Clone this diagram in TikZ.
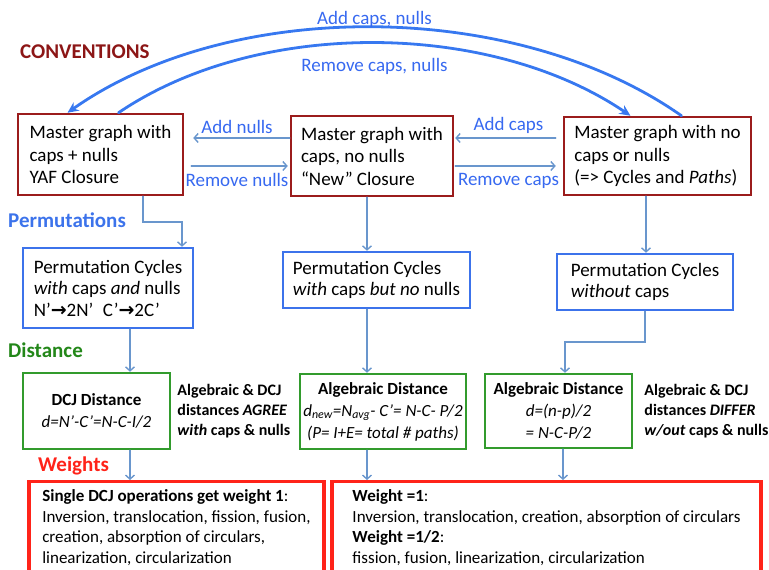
\documentclass[tikz,border=0pt]{standalone}
\usepackage{fontspec}
\setmainfont{Carlito}
\newfontfamily\arrowfont{DejaVu Sans}
\usetikzlibrary{arrows.meta, positioning, calc}

\definecolor{convred}{RGB}{140,22,22}
\definecolor{boxred}{RGB}{155,28,28}
\definecolor{permblue}{RGB}{60,115,235}
\definecolor{distgreen}{RGB}{35,135,25}
\definecolor{boxgreen}{RGB}{50,155,45}
\definecolor{weightred}{RGB}{255,35,25}
\definecolor{linkblue}{RGB}{105,150,205}
\definecolor{arcblue}{RGB}{55,120,240}
\definecolor{labelblue}{RGB}{55,105,240}

\begin{document}
\begin{tikzpicture}[x=1pt, y=1pt, line cap=round,
  box/.style={draw, line width=2.5pt, inner sep=0pt, align=left},
  master/.style={box, draw=boxred, font=\fontsize{19}{22.5}\selectfont},
  cycles/.style={box, draw=permblue, font=\fontsize{19}{21.5}\selectfont},
  dist/.style={box, draw=boxgreen, align=center, font=\fontsize{17}{22}\selectfont},
  weightbox/.style={box, draw=weightred, line width=3.5pt, anchor=north, inner ysep=8pt, font=\fontsize{17}{20.5}\selectfont},
  remark/.style={align=left, inner sep=0pt, font=\bfseries\fontsize{16}{20}\selectfont},
  section/.style={anchor=west, inner sep=0pt, font=\bfseries\fontsize{21}{24}\selectfont},
  link/.style={draw=linkblue, line width=1.4pt, -{Straight Barb[length=4pt,width=9pt]}},
  swing/.style={draw=arcblue, line width=2.8pt, -{Stealth[length=11pt,width=10pt]}},
  tag/.style={text=labelblue, inner sep=1pt, font=\fontsize{19}{22}\selectfont}
]

\useasboundingbox (0,0) rectangle (769,570);

%Coordinates
\coordinate (bendA) at (182,348);
\coordinate (bendC) at (565,228);

% Section titles
\node[section, text=convred] (conventions) at (20,518) {CONVENTIONS};
\node[section, text=permblue] (permutations) at (8,350) {Permutations};
\node[section, text=distgreen] (distance) at (8,220) {Distance};
\node[section, text=weightred] (weights) at (38,104) {Weights};

% Master graphs
\node[master, minimum width=165pt, minimum height=81pt] (yaf) at (100.5,415.5)
	{Master graph with\\caps + nulls\\YAF Closure};
\node[master, minimum width=162pt, minimum height=80pt] (newclosure) at (372,414)
	{Master graph with\\caps, no nulls\\“New” Closure};
\node[master, minimum width=187pt, minimum height=78pt] (nocaps) at (657.5,414)
	{Master graph with no\\caps or nulls\\(=> Cycles and \textit{Paths})};

% Permutation cycles
\node[cycles, minimum width=170pt, minimum height=80pt] (cyclesA) at (108,282)
	{Permutation Cycles\\\textit{with} caps \textit{and} nulls\\N’{\arrowfont\bfseries →}2N’\hspace{0.5em}C’{\arrowfont\bfseries →}2C’};
\node[cycles, minimum width=187pt, minimum height=56pt] (cyclesB) at (376.5,290)
	{Permutation Cycles\\\textit{with} caps \textit{but no} nulls};
\node[cycles, minimum width=176pt, minimum height=56pt] (cyclesC) at (645,288)
	{Permutation Cycles\\\textit{without} caps};

% Distances
\node[dist, minimum width=147pt, minimum height=76pt] (dcj) at (96.5,159)
	{\textbf{DCJ Distance}\\\textit{d=N’-C’=N-C-I/2}};
\node[dist, minimum width=166pt, minimum height=75pt] (algnew) at (383,158.5)
	{\textbf{Algebraic Distance}\\\textit{d\textsubscript{new}=N\textsubscript{avg}- C’= N-C- P/2}\\\textit{(P= I+E= total \# paths)}};
\node[dist, minimum width=147pt, minimum height=74pt] (algpath) at (558.5,159)
	{\textbf{Algebraic Distance}\\\textit{d=(n-p)/2}\\\textit{= N-C-P/2}};

\node[remark, right=6pt of dcj] (agree)
	{Algebraic \& DCJ\\distances \textit{AGREE}\\\textit{with} caps \& nulls};
\node[remark, right=11pt of algpath] (differ)
	{Algebraic \& DCJ\\distances \textit{DIFFER}\\\textit{w/out} caps \& nulls};

% Weights
\node[weightbox, minimum width=295pt] (weightone) at (176.5,90)
	{\textbf{Single DCJ operations get weight 1}:\\Inversion, translocation, fission, fusion,\\creation, absorption of circulars,\\linearization, circularization};
\node[weightbox, minimum width=429pt] (weighthalf) at (546.5,90)
	{\textbf{Weight =1}:\\Inversion, translocation, creation, absorption of circulars\\\textbf{Weight =1/2}:\\fission, fusion, linearization, circularization};

% Big arcs
\draw[swing] ([xshift=24pt]nocaps.north) .. controls +(-165,116) and +(165,116) .. ([xshift=-33pt]yaf.north)
	node[tag, above=-3pt, pos=0.5] (addall) {Add caps, nulls};
\draw[swing] ([xshift=18pt]yaf.north) .. controls +(140,95) and +(-140,95) .. ([xshift=-27pt]nocaps.north)
	node[tag, below=13pt, pos=0.5] (removeall) {Remove caps, nulls};

% Side arrows
\draw[link, shorten >=9pt] ([yshift=18pt]newclosure.west) -- ([yshift=18pt]newclosure.west -| yaf.east)
	node[tag, above=3pt, midway] (addnulls) {Add nulls};
\draw[link, shorten <=7pt, shorten >=2pt] ([yshift=-10pt]newclosure.west -| yaf.east) -- ([yshift=-10pt]newclosure.west)
	node[tag, below=6pt, midway] (removenulls) {Remove nulls};
\draw[link, shorten <=7pt, shorten >=1pt] ([yshift=18pt]nocaps.west) -- ([yshift=18pt]nocaps.west -| newclosure.east)
	node[tag, above=3pt, midway] (addcaps) {Add caps};
\draw[link, shorten <=1pt, shorten >=7pt] ([yshift=-10pt]nocaps.west -| newclosure.east) -- ([yshift=-10pt]nocaps.west)
	node[tag, below=6pt, midway] (removecaps) {Remove caps};

% Down arrows
\draw[link] ([xshift=42.5pt]yaf.south) |- (bendA) -- (bendA |- cyclesA.north);
\draw[link] ([xshift=-5pt]newclosure.south) -- ([xshift=-5pt]newclosure.south |- cyclesB.north);
\draw[link] ([xshift=-11.5pt]nocaps.south) -- ([xshift=-11.5pt]nocaps.south |- cyclesC.north);

\draw[link] ([xshift=22pt]cyclesA.south) -- ([xshift=22pt]cyclesA.south |- dcj.north);
\draw[link] ([xshift=-9.5pt]cyclesB.south) -- ([xshift=-9.5pt]cyclesB.south |- algnew.north);
\draw[link] (cyclesC.south) |- (bendC) -- (bendC |- algpath.north);

\draw[link] ([xshift=33.5pt]dcj.south) -- ([xshift=33.5pt]dcj.south |- weightone.north);
\draw[link] ([xshift=-16pt]algnew.south) -- ([xshift=-16pt]algnew.south |- weighthalf.north);
\draw[link] ([xshift=4.5pt]algpath.south) -- ([xshift=4.5pt]algpath.south |- weighthalf.north);

\end{tikzpicture}
\end{document}
